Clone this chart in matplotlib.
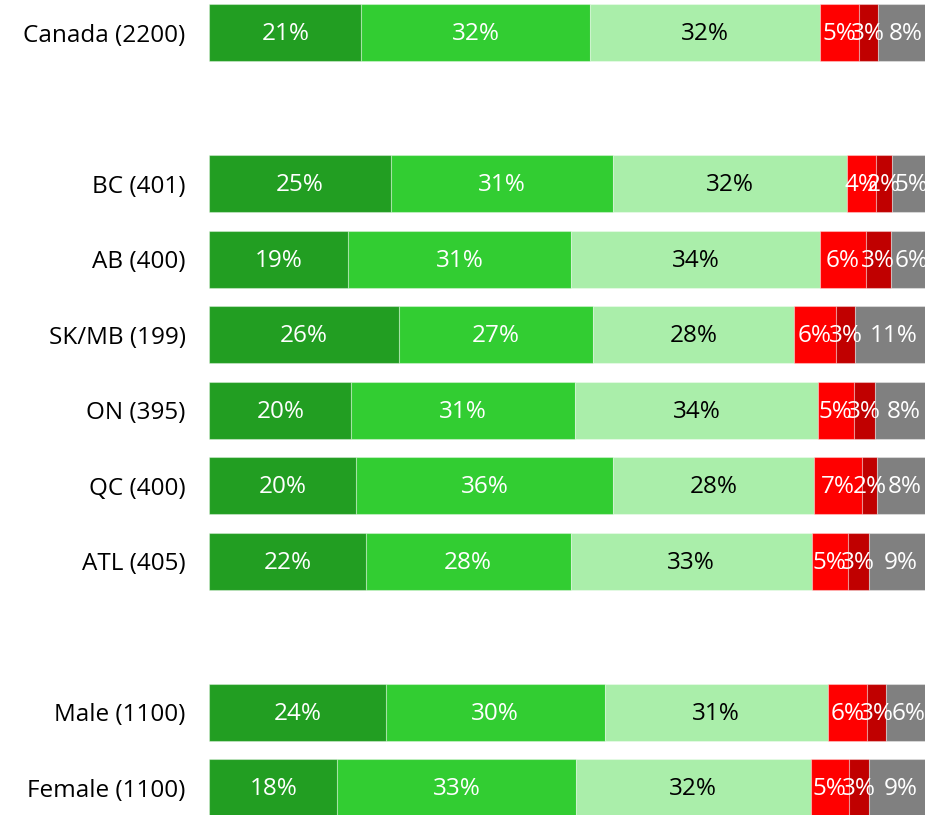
import numpy as np
import matplotlib.pyplot as plt

# rows (top to bottom) and their slot on the y axis
groups = ["Canada (2200)", "BC (401)", "AB (400)", "SK/MB (199)", "ON (395)",
          "QC (400)", "ATL (405)", "Male (1100)", "Female (1100)"]
slots = [0, 2, 3, 4, 5, 6, 7, 9, 10]

# shares per answer category
very_good = [21.0, 25.1, 19.2, 26.2, 19.6, 20.3, 21.6, 24.4, 17.7]
good      = [31.6, 30.7, 30.8, 26.8, 30.9, 35.5, 28.3, 30.2, 32.9]
fair      = [31.7, 32.3, 34.3, 27.7, 33.6, 27.7, 33.3, 30.8, 32.5]
poor      = [5.4, 4.0, 6.4, 5.9, 4.9, 6.7, 5.0, 5.5, 5.2]
very_poor = [2.6, 2.2, 3.4, 2.6, 2.9, 2.0, 2.9, 2.6, 2.8]
unsure    = [7.8, 5.4, 5.9, 10.8, 8.1, 7.8, 8.9, 6.3, 8.9]

series = [very_good, good, fair, poor, very_poor, unsure]
colors = ["#229E22", "#32CD32", "#AAEEAA", "#FF0000", "#C00000", "#808080"]
text_colors = ["white", "white", "black", "white", "white", "white"]

plt.rcParams['font.family'] = ['Open Sans', 'DejaVu Sans']

fig = plt.figure(figsize=(9.25, 8.15), dpi=100)
ax = fig.add_axes([209.3 / 925, 0, 1 - 209.3 / 925, 1])

y = np.array(slots)
left = np.zeros(len(groups))
for vals, col, tcol in zip(series, colors, text_colors):
    vals = np.array(vals)
    ax.barh(y, vals, left=left, height=0.75, color=col,
            edgecolor=(1, 1, 1, 0.35), linewidth=0.8)
    for yi, l, v in zip(y, left, vals):
        ax.text(l + v / 2, yi + 0.02, f"{round(v)}%", ha="center", va="center",
                color=tcol, fontsize=17.5)
    left += vals

ax.set_xlim(0, (925 - 209.3) / 7.24)
ax.set_ylim(10.36, -0.433)
ax.set_yticks(y)
ax.set_yticklabels(groups, fontsize=17.5)
ax.tick_params(axis="y", length=0, pad=17)
ax.set_xticks([])
for s in ax.spines.values():
    s.set_visible(False)

fig.savefig("out.png", dpi=100)
